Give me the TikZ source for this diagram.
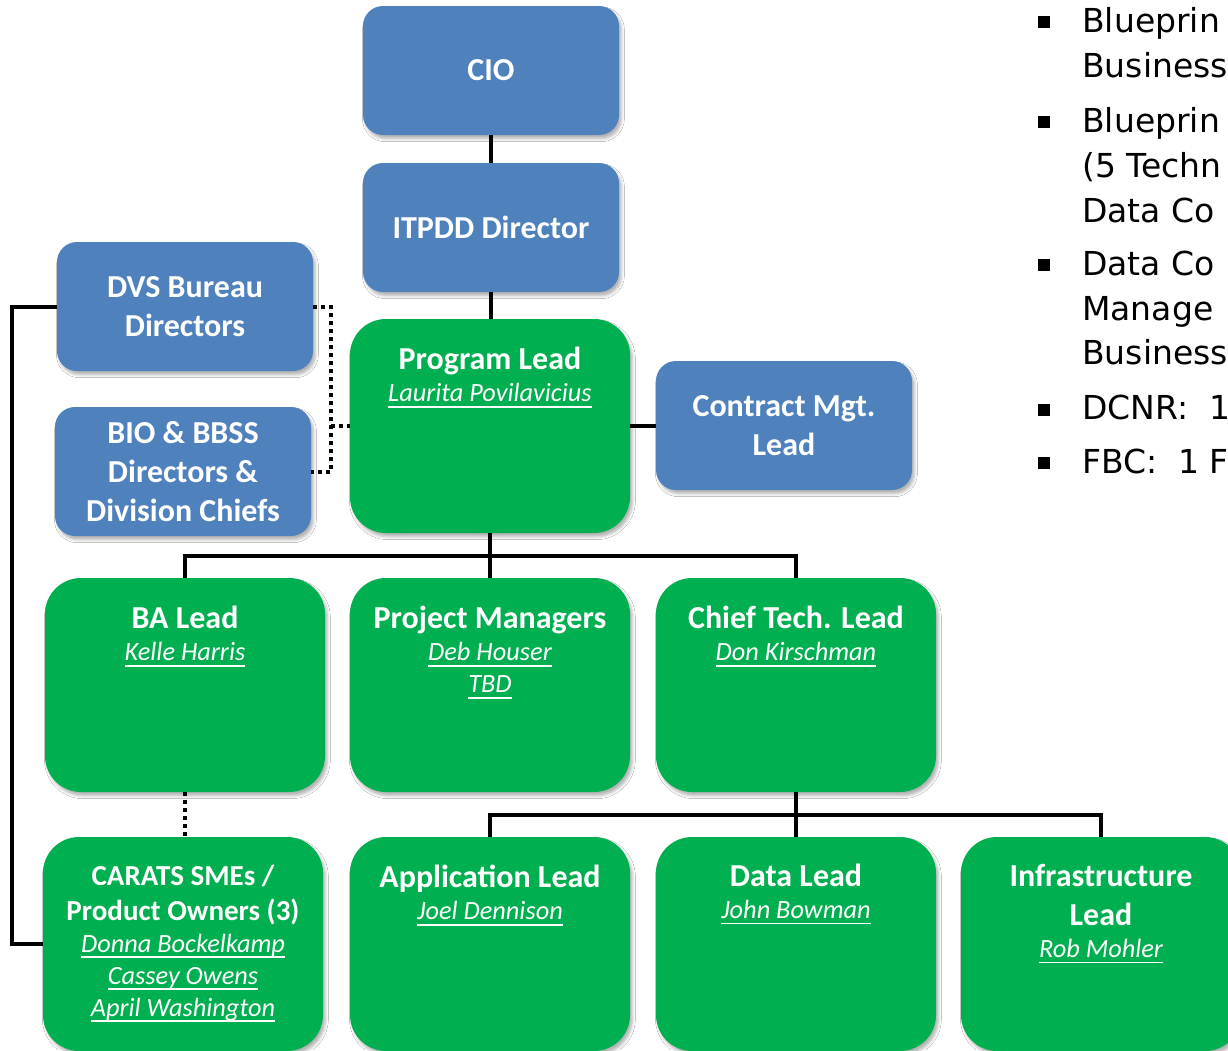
\documentclass[tikz,border=0pt]{standalone}
\usepackage{fontspec}
\setmainfont{Carlito}
\newfontfamily\rfont{DejaVu Sans}
\usetikzlibrary{shadows.blur}
\definecolor{cblue}{HTML}{4F81BD}
\definecolor{cgreen}{HTML}{00B050}
\newcommand\tfnt{\bfseries\fontsize{24}{24}\selectfont}
\newcommand\cfnt{\bfseries\fontsize{21.75}{24}\selectfont}
\newcommand\nmfnt{\itshape\fontsize{19.75}{24}\selectfont}
\newcommand\nm[1]{{\nmfnt\setbox0\hbox{#1}\rlap{\vrule height -3.3pt depth 4.4pt width \wd0}\box0}}
\newcommand\fstrut{\rule{0pt}{18pt}}
\begin{document}
\begin{tikzpicture}[x=0.75pt,y=-0.75pt,
  shd/.style={blur shadow={shadow xshift=1.8pt,shadow yshift=-2.8pt,shadow blur radius=2.2pt,shadow opacity=30}},
  bbox/.style={shd,fill=cblue,rounded corners=15pt,minimum width=192pt,minimum height=96.75pt,
    text=white,align=center,inner sep=0pt,font=\bfseries\fontsize{24}{29.25}\selectfont},
  gbox/.style={shd,fill=cgreen,rounded corners=27pt,minimum width=210pt,minimum height=160.5pt,inner sep=0pt},
  gtext/.style={anchor=north,text=white,align=center,inner sep=0pt,font=\fontsize{24}{24}\selectfont},
  conn/.style={line width=3pt,black},
  dots/.style={line width=3pt,black,dash pattern=on 3pt off 3pt},
  rtext/.style={anchor=base west,inner sep=0pt,font=\rfont\fontsize{24.75}{24.75}\selectfont},
  bul/.style={fill=black,minimum size=9.5pt,inner sep=0pt}]
\fill[white] (0,0) rectangle (1228,1050);
\useasboundingbox (0,0) rectangle (1228,1050);

% blue boxes
\node[bbox] (cio) at (491,70.5) {CIO};
\node[bbox] (itpdd) at (491,227.5) {ITPDD Director};
\node[bbox] (dvs) at (185,306.5) {DVS Bureau\\Directors};
\node[bbox] (bio) at (183,471.5) {BIO \& BBSS\\Directors \&\\Division Chiefs};
\node[bbox] (cm) at (784,425.5) {Contract Mgt.\\Lead};

% green boxes
\node[gbox] (pl) at (490,426) {};
\node[gbox] (ba) at (185,685) {};
\node[gbox] (pm) at (490,685) {};
\node[gbox] (ct) at (796,685) {};
\node[gbox] (car) at (183,944) {};
\node[gbox] (al) at (490,944) {};
\node[gbox] (dl) at (796,944) {};
\node[gbox] (il) at (1101,944) {};

% green box texts
\node[gtext] (plt) at ([yshift=-20pt]pl.north) {{\fstrut\tfnt Program Lead}\\\nm{Laurita Povilavicius}};
\node[gtext] (bat) at ([yshift=-20pt]ba.north) {{\fstrut\tfnt BA Lead}\\\nm{Kelle Harris}};
\node[gtext] (pmt) at ([yshift=-20pt]pm.north) {{\fstrut\tfnt Project Managers}\\\nm{Deb Houser}\\\nm{TBD}};
\node[gtext] (ctt) at ([yshift=-20pt]ct.north) {{\fstrut\tfnt Chief Tech. Lead}\\\nm{Don Kirschman}};
\node[gtext] (cart) at ([yshift=-18pt]car.north) {{\fstrut\cfnt CARATS SMEs /}\\[2.25pt]{\cfnt Product Owners (3)}\\\nm{Donna Bockelkamp}\\\nm{Cassey Owens}\\\nm{April Washington}};
\node[gtext] (alt) at ([yshift=-20pt]al.north) {{\fstrut\tfnt Application Lead}\\\nm{Joel Dennison}};
\node[gtext] (dlt) at ([yshift=-19pt]dl.north) {{\fstrut\tfnt Data Lead}\\\nm{John Bowman}};
\node[gtext] (ilt) at ([yshift=-19pt]il.north) {{\fstrut\tfnt Infrastructure}\\[5.25pt]{\tfnt Lead}\\\nm{Rob Mohler}};

% connectors
\coordinate (bus1) at (490,556);
\coordinate (bus2) at (796,815);
\coordinate (dj) at (331,426);
\coordinate (lb) at (12,600);
\draw[conn] (cio.south) -- (cio.south |- itpdd.north);
\draw[conn] (itpdd.south) -- (itpdd.south |- pl.north);
\draw[conn] (pl.east) -- (pl.east -| cm.west);
\draw[conn] (pl.south) -- (pm.north);
\draw[conn] (ba.north) |- (bus1) -| (ct.north);
\draw[conn] (ct.south) -- (dl.north);
\draw[conn] (al.north) |- (bus2) -| (il.north);
\draw[conn] (dvs.west) -- (dvs.west -| lb) -- (lb |- car.west) -- (car.west);
\draw[dots] (dvs.east) -| (dj) |- (bio.east);
\draw[dots] (dj) -- (dj -| pl.west);
\draw[dots] (ba.south) -- (ba.south |- car.north);

% right-hand bullet text
\node[bul] (b1) at (1044,22) {};
\node[bul] (b2) at (1044,122) {};
\node[bul] (b3) at (1044,265) {};
\node[bul] (b4) at (1044,410) {};
\node[bul] (b5) at (1044,463) {};
\node[rtext] (r1) at (1082,32) {Blueprin};
\node[rtext] (r2) at (1082,77) {Business};
\node[rtext] (r3) at (1082,132) {Blueprin};
\node[rtext] (r4) at (1082,177) {(5 Techn};
\node[rtext] (r5) at (1082,222) {Data Co};
\node[rtext] (r6) at (1082,275) {Data Co};
\node[rtext] (r7) at (1082,320) {Manage};
\node[rtext] (r8) at (1082,364) {Business};
\node[rtext] (r9) at (1082,419) {DCNR:\ \ 1};
\node[rtext] (r10) at (1082,473) {FBC:\ \ 1 F};
\end{tikzpicture}
\end{document}
